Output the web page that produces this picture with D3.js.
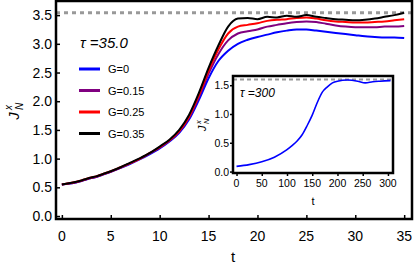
<!DOCTYPE html>
<html>
<head>
<meta charset="utf-8">
<script src="https://cdn.jsdelivr.net/npm/d3@7"></script>
<style>
  body { margin: 0; background: #fff; }
  text { font-family: "Liberation Sans", Arial, sans-serif; }
</style>
</head>
<body>
<div id="chart"></div>
<script>
// main panel data (tau = 35.0)
var tMain = [0, 1, 2, 3, 3.5, 4, 5, 6, 7, 8, 9, 10, 11, 12, 13, 14, 15, 16, 17, 18, 19, 20, 21, 22, 23, 24, 25, 26, 27, 28, 29, 30, 31, 32, 33, 34, 35];
var jG0 = [0.55, 0.57, 0.61, 0.66, 0.68, 0.71, 0.77, 0.84, 0.91, 0.99, 1.08, 1.18, 1.30, 1.45, 1.68, 2.02, 2.40, 2.70, 2.88, 3.00, 3.07, 3.12, 3.16, 3.20, 3.23, 3.25, 3.25, 3.23, 3.21, 3.19, 3.17, 3.15, 3.13, 3.12, 3.11, 3.11, 3.10];
var jG015 = [0.55, 0.57, 0.61, 0.66, 0.68, 0.71, 0.77, 0.84, 0.92, 1.00, 1.09, 1.19, 1.31, 1.47, 1.71, 2.07, 2.48, 2.82, 3.06, 3.18, 3.22, 3.25, 3.30, 3.33, 3.36, 3.38, 3.39, 3.38, 3.35, 3.32, 3.30, 3.29, 3.29, 3.29, 3.30, 3.30, 3.31];
var jG025 = [0.55, 0.58, 0.62, 0.67, 0.69, 0.72, 0.78, 0.85, 0.92, 1.00, 1.10, 1.20, 1.32, 1.48, 1.73, 2.10, 2.53, 2.90, 3.18, 3.30, 3.33, 3.36, 3.40, 3.42, 3.43, 3.45, 3.46, 3.44, 3.41, 3.39, 3.38, 3.37, 3.37, 3.38, 3.39, 3.41, 3.43];
var jG035 = [0.55, 0.58, 0.62, 0.67, 0.69, 0.72, 0.78, 0.85, 0.93, 1.01, 1.10, 1.21, 1.33, 1.50, 1.76, 2.14, 2.58, 2.97, 3.30, 3.44, 3.45, 3.43, 3.47, 3.46, 3.49, 3.47, 3.50, 3.47, 3.45, 3.43, 3.42, 3.41, 3.42, 3.44, 3.47, 3.50, 3.54];
var seriesNames = ["G=0", "G=0.15", "G=0.25", "G=0.35"];
var seriesColors = ["#0000ff", "#800080", "#ff0000", "#000000"];
var mainLimit = 3.54;
var mainXTicks = [0, 5, 10, 15, 20, 25, 30, 35];
var mainYTicks = [0, 0.5, 1, 1.5, 2, 2.5, 3, 3.5];

// inset data (tau = 300)
var tInset = [0, 25, 50, 75, 100, 110, 120, 130, 140, 150, 160, 170, 180, 190, 200, 220, 240, 255, 270, 285, 305];
var jInset = [0.09, 0.12, 0.17, 0.25, 0.38, 0.45, 0.53, 0.64, 0.80, 0.98, 1.20, 1.38, 1.47, 1.54, 1.57, 1.59, 1.57, 1.54, 1.56, 1.57, 1.58];
var insetLimit = 1.6;
var insetXTicks = [0, 50, 100, 150, 200, 250, 300];
var insetYTicks = [0, 0.5, 1, 1.5];

var W = 415, H = 270;
var svg = d3.select("#chart").append("svg").attr("width", W).attr("height", H);

// ---- main panel ----
var x = d3.scaleLinear().domain([-0.6, 35.8]).range([56, 412]);
var y = d3.scaleLinear().domain([-0.052, 3.746]).range([219, 1]);

var line = d3.line().curve(d3.curveMonotoneX);

// dashed limit
svg.append("line")
  .attr("x1", x(-0.6)).attr("x2", x(35.8))
  .attr("y1", y(mainLimit)).attr("y2", y(mainLimit))
  .attr("stroke", "#999").attr("stroke-width", 3).attr("stroke-dasharray", "4,4");

var allSeries = [jG0, jG015, jG025, jG035];
allSeries.forEach(function (vals, i) {
  svg.append("path")
    .datum(tMain.map(function (t, k) { return [x(t), y(vals[k])]; }))
    .attr("fill", "none")
    .attr("stroke", seriesColors[i])
    .attr("stroke-width", 2)
    .attr("d", line);
});

// frame ticks (inside)
var gx = svg.append("g").attr("transform", "translate(0,219)");
gx.call(d3.axisTop(x).tickValues(d3.range(0, 36, 1)).tickSize(2.5).tickFormat(""));
gx.call(d3.axisTop(x).tickValues(mainXTicks).tickSize(4).tickFormat(""));
var gy = svg.append("g").attr("transform", "translate(56,0)");
gy.call(d3.axisRight(y).tickValues(d3.range(0, 37, 1).map(function (d) { return d / 10; })).tickSize(2.5).tickFormat(""));
gy.call(d3.axisRight(y).tickValues(mainYTicks).tickSize(4).tickFormat(""));
svg.selectAll(".domain").remove();
svg.selectAll(".tick line").attr("stroke", "#000").attr("stroke-width", 1.5);

svg.append("rect")
  .attr("x", 56).attr("y", 1).attr("width", 356).attr("height", 218)
  .attr("fill", "none").attr("stroke", "#000").attr("stroke-width", 2.5);

// tick labels
svg.selectAll(".mx").data(mainXTicks).join("text")
  .attr("x", function (d) { return x(d); }).attr("y", 241)
  .attr("text-anchor", "middle").attr("font-size", 14).text(function (d) { return d; });
svg.selectAll(".my").data(mainYTicks).join("text")
  .attr("x", 52).attr("y", function (d) { return y(d) + 5; })
  .attr("text-anchor", "end").attr("font-size", 14).text(function (d) { return d.toFixed(1); });

svg.append("text").attr("x", 233).attr("y", 262).attr("text-anchor", "middle")
  .attr("font-size", 15).text("t");

function jLabel(tx, ty, s) {
  var g = svg.append("g").attr("transform", "translate(" + tx + "," + ty + ") rotate(-90)");
  g.append("text").attr("x", -6 * s).attr("y", 0).attr("font-size", 15 * s)
    .attr("font-style", "italic").attr("text-anchor", "middle").text("J");
  g.append("text").attr("x", 0).attr("y", -7 * s).attr("font-size", 10 * s)
    .attr("font-style", "italic").text("x");
  g.append("text").attr("x", 0).attr("y", 4 * s).attr("font-size", 10 * s)
    .attr("font-style", "italic").text("N");
}
jLabel(19, 110, 1);

// tau text and legend
svg.append("text").attr("x", 80).attr("y", 48).attr("font-size", 15)
  .attr("font-style", "italic").text("\u03c4 =35.0");
seriesNames.forEach(function (name, i) {
  var ly = 69 + i * 21.5;
  svg.append("line").attr("x1", 79).attr("x2", 100).attr("y1", ly).attr("y2", ly)
    .attr("stroke", seriesColors[i]).attr("stroke-width", 3);
  svg.append("text").attr("x", 108).attr("y", ly + 4).attr("font-size", 11).text(name);
});

// ---- inset ----
var xi = d3.scaleLinear().domain([-7, 310]).range([233, 393]);
var yi = d3.scaleLinear().domain([-0.025, 1.66]).range([173, 76]);

svg.append("rect").attr("x", 233).attr("y", 76).attr("width", 160).attr("height", 97)
  .attr("fill", "#fff");
svg.append("line")
  .attr("x1", xi(-7)).attr("x2", xi(310))
  .attr("y1", yi(insetLimit)).attr("y2", yi(insetLimit))
  .attr("stroke", "#999").attr("stroke-width", 2).attr("stroke-dasharray", "4,3");
svg.append("path")
  .datum(tInset.map(function (t, k) { return [xi(t), yi(jInset[k])]; }))
  .attr("fill", "none").attr("stroke", "#0000ff").attr("stroke-width", 1.6)
  .attr("d", line);

var gix = svg.append("g").attr("transform", "translate(0,173)");
gix.call(d3.axisBottom(xi).tickValues(insetXTicks).tickSize(3).tickFormat(""));
var giy = svg.append("g").attr("transform", "translate(233,0)");
giy.call(d3.axisLeft(yi).tickValues(insetYTicks).tickSize(3).tickFormat(""));
svg.selectAll(".domain").remove();
svg.selectAll(".tick line").attr("stroke", "#000").attr("stroke-width", 1.5);

svg.append("rect").attr("x", 233).attr("y", 76).attr("width", 160).attr("height", 97)
  .attr("fill", "none").attr("stroke", "#000").attr("stroke-width", 2.5);

svg.selectAll(".ix").data(insetXTicks).join("text")
  .attr("x", function (d) { return xi(d); }).attr("y", 187)
  .attr("text-anchor", "middle").attr("font-size", 10.5).text(function (d) { return d; });
svg.selectAll(".iy").data(insetYTicks).join("text")
  .attr("x", 229).attr("y", function (d) { return yi(d) + 4; })
  .attr("text-anchor", "end").attr("font-size", 10.5).text(function (d) { return d.toFixed(1); });
svg.append("text").attr("x", 313).attr("y", 205).attr("text-anchor", "middle")
  .attr("font-size", 11).text("t");
jLabel(206, 124, 0.75);
svg.append("text").attr("x", 240).attr("y", 97).attr("font-size", 12)
  .attr("font-style", "italic").text("\u03c4 =300");
</script>
</body>
</html>
